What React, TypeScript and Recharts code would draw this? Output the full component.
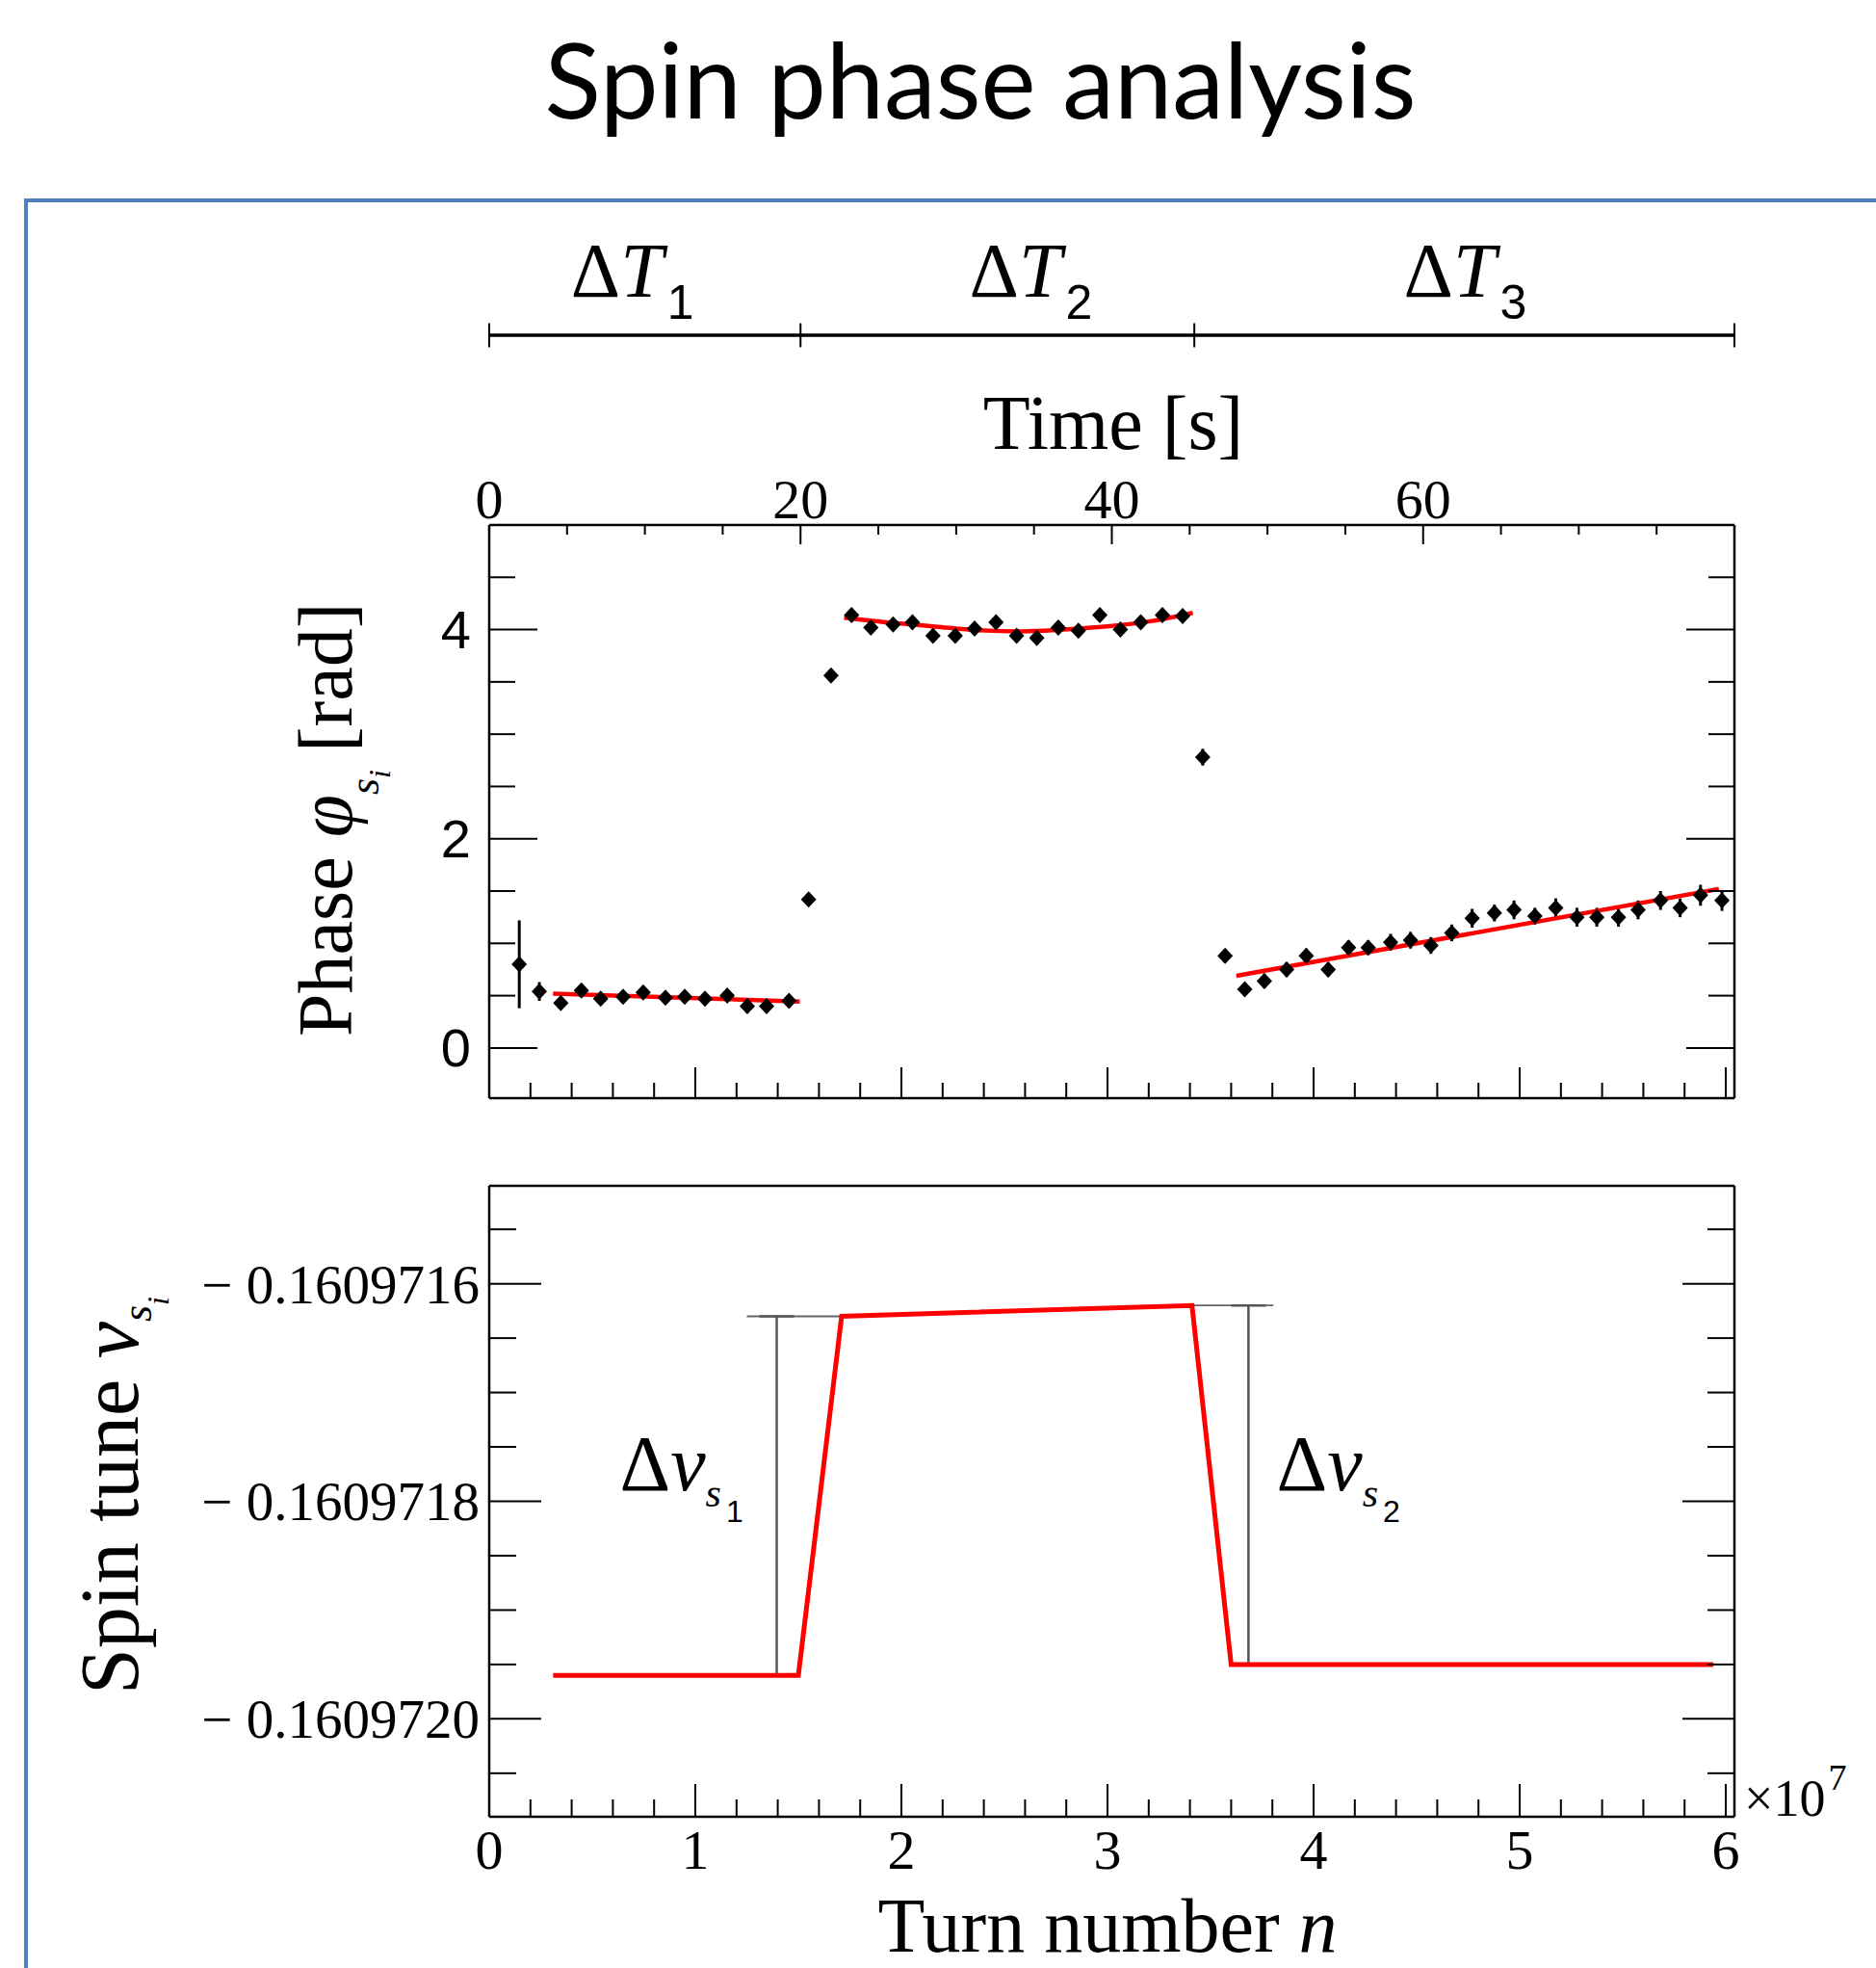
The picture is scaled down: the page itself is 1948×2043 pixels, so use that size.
import React from 'react'
import { ComposedChart, ErrorBar, Line, ReferenceLine, Scatter, XAxis, YAxis } from 'recharts'

const SERIF = '"Liberation Serif", "Times New Roman", serif'
const SANS = '"Liberation Sans", Arial, sans-serif'

// phase measurements (time in s, phase in rad)
const phaseTime = [
  1.93, 3.22, 4.6, 5.92, 7.16, 8.6, 9.89, 11.32, 12.56, 13.86, 15.29, 16.58, 17.82, 19.26,
  20.52, 21.96,
  23.28, 24.52, 25.95, 27.19, 28.51, 29.94, 31.18, 32.56, 33.88, 35.18, 36.56, 37.85, 39.23, 40.55, 41.86, 43.25, 44.55,
  45.84, 47.28,
  48.54, 49.8, 51.23, 52.49, 53.9, 55.21, 56.47, 57.91, 59.19, 60.5, 61.84, 63.15, 64.58, 65.84, 67.18, 68.52, 69.88,
  71.16, 72.55, 73.81, 75.25, 76.51, 77.82, 79.2,
]
const phaseValue = [
  0.8, 0.54, 0.43, 0.55, 0.47, 0.49, 0.53, 0.48, 0.49, 0.47, 0.5, 0.4, 0.4, 0.45,
  1.42, 3.56,
  4.14, 4.02, 4.05, 4.07, 3.94, 3.94, 4.01, 4.07, 3.94, 3.92, 4.02, 3.99, 4.14, 4.0, 4.07, 4.14, 4.13,
  2.78, 0.88,
  0.56, 0.64, 0.75, 0.88, 0.75, 0.96, 0.96, 1.01, 1.03, 0.98, 1.1, 1.24, 1.29, 1.32, 1.26, 1.34, 1.25,
  1.25, 1.25, 1.32, 1.41, 1.34, 1.46, 1.41,
]
const phaseError = [
  0.42, 0.09, 0.05, 0.05, 0.05, 0.05, 0.05, 0.05, 0.05, 0.05, 0.05, 0.05, 0.05, 0.05,
  0.05, 0.05,
  0.06, 0.06, 0.06, 0.06, 0.06, 0.06, 0.06, 0.06, 0.06, 0.06, 0.06, 0.06, 0.06, 0.06, 0.06, 0.06, 0.06,
  0.08, 0.06,
  0.06, 0.07, 0.07, 0.07, 0.07, 0.07, 0.07, 0.08, 0.08, 0.08, 0.08, 0.09, 0.08, 0.09, 0.08, 0.09, 0.09,
  0.09, 0.09, 0.09, 0.09, 0.09, 0.1, 0.1,
]

// fitted phase curves for the three intervals
const fit1Time = [4.1, 19.95]
const fit1Phase = [0.52, 0.443]
const fit2Time = [22.8, 25.9, 28.65, 31.4, 34.2, 36.9, 39.7, 42.5, 45.2]
const fit2Phase = [4.114, 4.065, 4.029, 3.993, 3.982, 4.0, 4.03, 4.08, 4.16]
const fit3Time = [48.0, 79.0]
const fit3Phase = [0.69, 1.52]

// time intervals ΔT1..ΔT3
const intervalEdges = [0, 20, 45.3, 80]
const intervalNames = ['1', '2', '3']
const intervalLabelTime = [9.2, 34.8, 62.7]

// spin tune vs turn number (turns in units of 10^7)
const tuneTurn = [0.31, 1.5, 1.71, 3.41, 3.6, 5.94]
const tuneValue = [-0.16097196, -0.16097196, -0.16097163, -0.16097162, -0.16097195, -0.16097195]

// Δν markers
const jumpTurn = [1.395, 3.684]
const jumpLow = [-0.16097196, -0.16097195]
const jumpHigh = [-0.16097163, -0.16097162]
const jumpRefFrom = [1.25, 3.41]
const jumpRefTo = [1.71, 3.805]
const jumpLabelTurn = [0.633, 3.82]
const jumpLabelTune = [-0.16097179, -0.16097179]
const jumpNames = ['1', '2']

// axes
const timeDomain = [0, 80]
const timeTicks = [0, 5, 10, 15, 20, 25, 30, 35, 40, 45, 50, 55, 60, 65, 70, 75, 80]
const timeMajor = [0, 20, 40, 60, 80]
const timeLabels = [0, 20, 40, 60]

const turnDomain = [0, 6.042]
const turnTicks = [
  0, 0.2, 0.4, 0.6, 0.8, 1, 1.2, 1.4, 1.6, 1.8, 2, 2.2, 2.4, 2.6, 2.8, 3, 3.2, 3.4, 3.6, 3.8,
  4, 4.2, 4.4, 4.6, 4.8, 5, 5.2, 5.4, 5.6, 5.8, 6,
]
const turnMajor = [0, 1, 2, 3, 4, 5, 6]

const phaseDomain = [-0.48, 5]
const phaseTicks = [0, 0.5, 1, 1.5, 2, 2.5, 3, 3.5, 4, 4.5, 5]
const phaseMajor = [0, 2, 4]

const tuneDomain = [-0.16097209, -0.16097151]
const tuneTicks = [
  -0.16097205, -0.160972, -0.16097195, -0.1609719, -0.16097185, -0.1609718, -0.16097175, -0.1609717,
  -0.16097165, -0.1609716, -0.16097155,
]
const tuneMajor = [-0.160972, -0.1609718, -0.1609716]

const phasePoints = phaseTime.map((t, i) => ({ t, phi: phaseValue[i], err: phaseError[i] }))
const fits = [
  fit1Time.map((t, i) => ({ t, phi: fit1Phase[i] })),
  fit2Time.map((t, i) => ({ t, phi: fit2Phase[i] })),
  fit3Time.map((t, i) => ({ t, phi: fit3Phase[i] })),
]
const bracketLevel = 0.25
const bracketData = intervalEdges.map((t) => ({ t, y: bracketLevel, e: 0.078 }))
const intervalLabelData = intervalLabelTime.map((t, i) => ({ t, y: 0.5, sub: intervalNames[i] }))
const tuneData = tuneTurn.map((n, i) => ({ n, nu: tuneValue[i] }))
const jumpData = jumpTurn.map((n, i) => ({ n, nu: jumpLow[i], err: [0, jumpHigh[i] - jumpLow[i]] }))
const jumpLabelData = jumpLabelTurn.map((n, i) => ({ n, nu: jumpLabelTune[i], sub: jumpNames[i] }))

const same = (a: number, b: number) => Math.abs(a - b) < 1e-9 * Math.max(1, Math.abs(a))

type TickOpts = {
  side: 'top' | 'bottom' | 'left' | 'right'
  majors: number[]
  majorLen: number
  minorLen: number
  labels?: number[]
  format?: (v: number) => string
  gap?: number
  fontSize?: number
  font?: string
}

function axisTick(o: TickOpts) {
  return (props: any) => {
    const { x, y, payload } = props
    const v = payload.value as number
    const len = o.majors.some((m) => same(m, v)) ? o.majorLen : o.minorLen
    let x2 = x
    let y2 = y
    if (o.side === 'bottom') y2 = y - len
    if (o.side === 'top') y2 = y + len
    if (o.side === 'left') x2 = x + len
    if (o.side === 'right') x2 = x - len
    let label = null
    if (o.format && o.labels && o.labels.some((m) => same(m, v))) {
      const fs = o.fontSize ?? 58
      const gap = o.gap ?? 10
      const family = o.font ?? SERIF
      if (o.side === 'bottom' || o.side === 'top') {
        label = (
          <text x={x} y={o.side === 'bottom' ? y + gap : y - gap} textAnchor="middle" fontSize={fs} fontFamily={family} fill="#000">
            {o.format(v)}
          </text>
        )
      } else {
        label = (
          <text x={x - gap} y={y + fs * 0.35} textAnchor="end" fontSize={fs} fontFamily={family} fill="#000">
            {o.format(v)}
          </text>
        )
      }
    }
    return (
      <g>
        <line x1={x} y1={y} x2={x2} y2={y2} stroke="#000" strokeWidth={2} />
        {label}
      </g>
    )
  }
}

const frame = { stroke: '#000', strokeWidth: 2.5 }

const Diamond = (props: any) => {
  const { cx, cy } = props
  return <polygon points={`${cx},${cy - 8.5} ${cx + 8},${cy} ${cx},${cy + 8.5} ${cx - 8},${cy}`} fill="#000" />
}

const Nothing = () => <g />

const IntervalLabel = (props: any) => {
  const { cx, cy, payload } = props
  return (
    <text x={cx} y={cy} textAnchor="middle" fontFamily={SERIF} fontSize={80} fill="#000">
      Δ<tspan fontStyle="italic">T</tspan>
      <tspan fontFamily={SANS} fontSize={50} dx={4} dy={23}>{payload.sub}</tspan>
    </text>
  )
}

const JumpLabel = (props: any) => {
  const { cx, cy, payload } = props
  return (
    <text x={cx} y={cy} fontFamily={SERIF} fontSize={82} fill="#000">
      Δ<tspan fontStyle="italic">ν</tspan>
      <tspan fontStyle="italic" fontSize={42} dy={17}>s</tspan>
      <tspan fontFamily={SANS} fontSize={32} dx={5} dy={16}>{payload.sub}</tspan>
    </text>
  )
}

function PhasePanel() {
  return (
    <ComposedChart width={1948} height={1160} margin={{ top: 544, right: 146, bottom: 19, left: 507 }}>
      <XAxis
        xAxisId="time"
        orientation="top"
        type="number"
        dataKey="t"
        domain={timeDomain}
        ticks={timeTicks}
        interval={0}
        allowDataOverflow
        height={1}
        tickSize={0}
        tickMargin={0}
        tickLine={false}
        axisLine={frame}
        tick={axisTick({ side: 'top', majors: timeMajor, majorLen: 20, minorLen: 10, labels: timeLabels, format: String, gap: 7 })}
      />
      <XAxis
        xAxisId="turn"
        orientation="bottom"
        type="number"
        dataKey="n"
        domain={turnDomain}
        ticks={turnTicks}
        interval={0}
        allowDataOverflow
        height={1}
        tickSize={0}
        tickMargin={0}
        tickLine={false}
        axisLine={frame}
        tick={axisTick({ side: 'bottom', majors: turnMajor, majorLen: 32, minorLen: 16 })}
      />
      <YAxis
        yAxisId="phase"
        orientation="left"
        type="number"
        dataKey="phi"
        domain={phaseDomain}
        ticks={phaseTicks}
        interval={0}
        allowDataOverflow
        width={1}
        tickSize={0}
        tickMargin={0}
        tickLine={false}
        axisLine={frame}
        tick={axisTick({
          side: 'left',
          majors: phaseMajor,
          majorLen: 50,
          minorLen: 27,
          labels: phaseMajor,
          format: String,
          gap: 19,
          fontSize: 56,
          font: SANS,
        })}
      />
      <YAxis
        yAxisId="phaseRight"
        orientation="right"
        type="number"
        domain={phaseDomain}
        ticks={phaseTicks}
        interval={0}
        allowDataOverflow
        width={1}
        tickSize={0}
        tickMargin={0}
        tickLine={false}
        axisLine={frame}
        tick={axisTick({ side: 'right', majors: phaseMajor, majorLen: 50, minorLen: 27 })}
      />
      <Scatter xAxisId="time" yAxisId="phase" data={phasePoints} dataKey="phi" shape={Diamond} isAnimationActive={false}>
        <ErrorBar dataKey="err" direction="y" width={0} stroke="#000" strokeWidth={3} isAnimationActive={false} />
      </Scatter>
      {fits.map((d, i) => (
        <Line
          key={i}
          xAxisId="time"
          yAxisId="phase"
          data={d}
          dataKey="phi"
          type="monotone"
          stroke="#ff0000"
          strokeWidth={4.5}
          dot={false}
          isAnimationActive={false}
        />
      ))}
    </ComposedChart>
  )
}

function IntervalBracket() {
  return (
    <ComposedChart width={1948} height={160} margin={{ top: 0, right: 147, bottom: 0, left: 508 }}>
      <XAxis hide type="number" dataKey="t" domain={timeDomain} />
      <YAxis hide type="number" dataKey="y" domain={[0, 1]} />
      <Line data={bracketData} dataKey="y" stroke="#000" strokeWidth={3.5} dot={false} isAnimationActive={false} />
      <Scatter data={bracketData} dataKey="y" shape={Nothing} isAnimationActive={false}>
        <ErrorBar dataKey="e" direction="y" width={0} stroke="#000" strokeWidth={2} isAnimationActive={false} />
      </Scatter>
      <Scatter data={intervalLabelData} dataKey="y" shape={IntervalLabel} isAnimationActive={false} />
    </ComposedChart>
  )
}

function TunePanel() {
  return (
    <ComposedChart width={1948} height={863} margin={{ top: 50, right: 146, bottom: 156, left: 507 }}>
      <XAxis
        xAxisId="turn"
        orientation="bottom"
        type="number"
        dataKey="n"
        domain={turnDomain}
        ticks={turnTicks}
        interval={0}
        allowDataOverflow
        height={1}
        tickSize={0}
        tickMargin={0}
        tickLine={false}
        axisLine={frame}
        tick={axisTick({ side: 'bottom', majors: turnMajor, majorLen: 34, minorLen: 18, labels: turnMajor, format: String, gap: 54 })}
      />
      <XAxis
        xAxisId="time"
        orientation="top"
        type="number"
        domain={timeDomain}
        ticks={timeTicks}
        interval={0}
        allowDataOverflow
        height={1}
        tickSize={0}
        tickMargin={0}
        tickLine={false}
        axisLine={frame}
        tick={axisTick({ side: 'top', majors: timeMajor, majorLen: 20, minorLen: 11 })}
      />
      <YAxis
        yAxisId="tune"
        orientation="left"
        type="number"
        dataKey="nu"
        domain={tuneDomain}
        ticks={tuneTicks}
        interval={0}
        allowDataOverflow
        width={1}
        tickSize={0}
        tickMargin={0}
        tickLine={false}
        axisLine={frame}
        tick={axisTick({
          side: 'left',
          majors: tuneMajor,
          majorLen: 54,
          minorLen: 28,
          labels: tuneMajor,
          format: (v) => '\u2212 ' + Math.abs(v).toFixed(7),
          gap: 10,
          fontSize: 57,
        })}
      />
      <YAxis
        yAxisId="tuneRight"
        orientation="right"
        type="number"
        domain={tuneDomain}
        ticks={tuneTicks}
        interval={0}
        allowDataOverflow
        width={1}
        tickSize={0}
        tickMargin={0}
        tickLine={false}
        axisLine={frame}
        tick={axisTick({ side: 'right', majors: tuneMajor, majorLen: 54, minorLen: 28 })}
      />
      {jumpTurn.map((_, i) => (
        <ReferenceLine
          key={i}
          xAxisId="turn"
          yAxisId="tune"
          segment={[
            { x: jumpRefFrom[i], y: jumpHigh[i] },
            { x: jumpRefTo[i], y: jumpHigh[i] },
          ]}
          stroke="#666"
          strokeWidth={1.8}
        />
      ))}
      <Scatter xAxisId="turn" yAxisId="tune" data={jumpData} dataKey="nu" shape={Nothing} isAnimationActive={false}>
        <ErrorBar dataKey="err" direction="y" width={18} stroke="#555" strokeWidth={2.5} isAnimationActive={false} />
      </Scatter>
      <Line
        xAxisId="turn"
        yAxisId="tune"
        data={tuneData}
        dataKey="nu"
        type="linear"
        stroke="#ff0000"
        strokeWidth={5}
        dot={false}
        isAnimationActive={false}
      />
      <Scatter xAxisId="turn" yAxisId="tune" data={jumpLabelData} dataKey="nu" shape={JumpLabel} isAnimationActive={false} />
    </ComposedChart>
  )
}

export default function App() {
  return (
    <div style={{ position: 'absolute', left: 0, top: 0, width: 1948, height: 2043, overflow: 'hidden', background: '#fff' }}>
      <div
        style={{
          position: 'absolute',
          left: 25,
          top: 206,
          width: 2000,
          height: 2000,
          border: '4px solid #4F81BD',
          boxSizing: 'border-box',
        }}
      />
      <svg width={1948} height={2043} style={{ position: 'absolute', left: 0, top: 0 }}>
        <text x={1018} y={123} textAnchor="middle" fontFamily="Lato, 'Open Sans', sans-serif" fontSize={108} fill="#000">
          Spin phase analysis
        </text>
        <text x={1156} y={466} textAnchor="middle" fontFamily={SERIF} fontSize={80} fill="#000">
          Time [s]
        </text>
        <text transform="translate(365,1076) rotate(-90)" fontFamily={SERIF} fontSize={80} fill="#000">
          Phase <tspan fontStyle="italic">φ</tspan>
          <tspan fontStyle="italic" fontSize={44} dy={28}>s</tspan>
          <tspan fontStyle="italic" fontSize={32} dy={12}>i</tspan>
          <tspan dx={18} dy={-40}>[rad]</tspan>
        </text>
        <text transform="translate(143,1759) rotate(-90)" fontFamily={SERIF} fontSize={86} fill="#000">
          Spin tune <tspan fontStyle="italic">ν</tspan>
          <tspan fontStyle="italic" fontSize={44} dy={14}>s</tspan>
          <tspan fontStyle="italic" fontSize={32} dy={18}>i</tspan>
        </text>
        <text x={1150} y={2026} textAnchor="middle" fontFamily={SERIF} fontSize={80} fill="#000">
          Turn number <tspan fontStyle="italic">n</tspan>
        </text>
        <text x={1811} y={1885} fontFamily={SERIF} fontSize={54} fill="#000">
          ×10<tspan fontSize={38} dx={3} dy={-27}>7</tspan>
        </text>
      </svg>
      <div style={{ position: 'absolute', left: 0, top: 0 }}>
        <PhasePanel />
      </div>
      <div style={{ position: 'absolute', left: 0, top: 228 }}>
        <IntervalBracket />
      </div>
      <div style={{ position: 'absolute', left: 0, top: 1180 }}>
        <TunePanel />
      </div>
    </div>
  )
}
